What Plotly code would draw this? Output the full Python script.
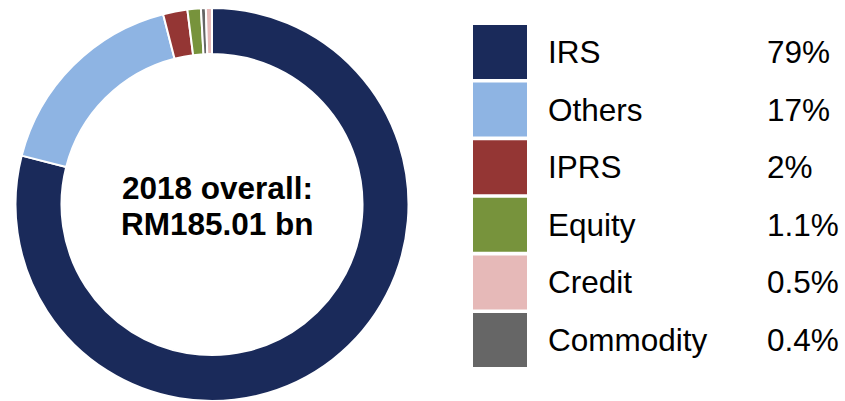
import plotly.graph_objects as go

# Share of 2018 issuance by instrument
categories = ["IRS", "Others", "IPRS", "Equity", "Credit", "Commodity"]
shares = [79, 17, 2, 1.1, 0.5, 0.4]
share_labels = ["79%", "17%", "2%", "1.1%", "0.5%", "0.4%"]
colors = ["#1a2a5a", "#8eb4e3", "#943634", "#77933c", "#e6b9b8", "#666666"]

# order of slices around the ring (clockwise from 12 o'clock)
ring_order = ["IRS", "Others", "IPRS", "Equity", "Commodity", "Credit"]

title_lines = ["2018 overall:", "RM185.01 bn"]

W, H = 845, 401
FONT = "Liberation Sans, Arial, sans-serif"

idx = [categories.index(c) for c in ring_order]

fig = go.Figure()

fig.add_trace(go.Pie(
    labels=[categories[i] for i in idx],
    values=[shares[i] for i in idx],
    marker=dict(colors=[colors[i] for i in idx], line=dict(color="white", width=2)),
    hole=0.766,
    sort=False,
    direction="clockwise",
    rotation=0,
    textinfo="none",
    hoverinfo="label+percent",
    showlegend=False,
    domain=dict(x=[15 / W, 409 / W], y=[0, 393 / H]),
))

# legend swatches as large square markers, one per category row
fig.add_trace(go.Scatter(
    x=[0] * len(categories),
    y=list(range(len(categories))),
    mode="markers",
    marker=dict(symbol="square", size=54, color=colors, line=dict(width=0)),
    hoverinfo="skip",
    showlegend=False,
    xaxis="x", yaxis="y",
))

pitch = 57.6
r0 = -52 / pitch
r1 = r0 + H / pitch

fig.update_layout(
    width=W, height=H,
    margin=dict(l=0, r=0, t=0, b=0),
    paper_bgcolor="white", plot_bgcolor="rgba(0,0,0,0)",
    xaxis=dict(range=[-500, W - 500], visible=False, fixedrange=True),
    yaxis=dict(range=[r1, r0], visible=False, fixedrange=True),
    font=dict(family=FONT, color="#000000"),
)

annotations = []
for i, (cat, lab) in enumerate(zip(categories, share_labels)):
    annotations.append(dict(
        x=546 / W, xref="paper", y=i, yref="y", text=cat, showarrow=False,
        xanchor="left", yanchor="middle", font=dict(size=31.5, family=FONT, color="#000"),
    ))
    annotations.append(dict(
        x=765 / W, xref="paper", y=i, yref="y", text=lab, showarrow=False,
        xanchor="left", yanchor="middle", font=dict(size=31.5, family=FONT, color="#000"),
    ))

for k, line in enumerate(title_lines):
    py = 188 + 35.5 * k
    annotations.append(dict(
        x=217.5 / W, xref="paper", y=1 - py / H, yref="paper", text="<b>" + line + "</b>",
        showarrow=False, xanchor="center", yanchor="middle",
        font=dict(size=31.5, family=FONT, color="#000"),
    ))

fig.update_layout(annotations=annotations)

fig.write_html("out.html")
